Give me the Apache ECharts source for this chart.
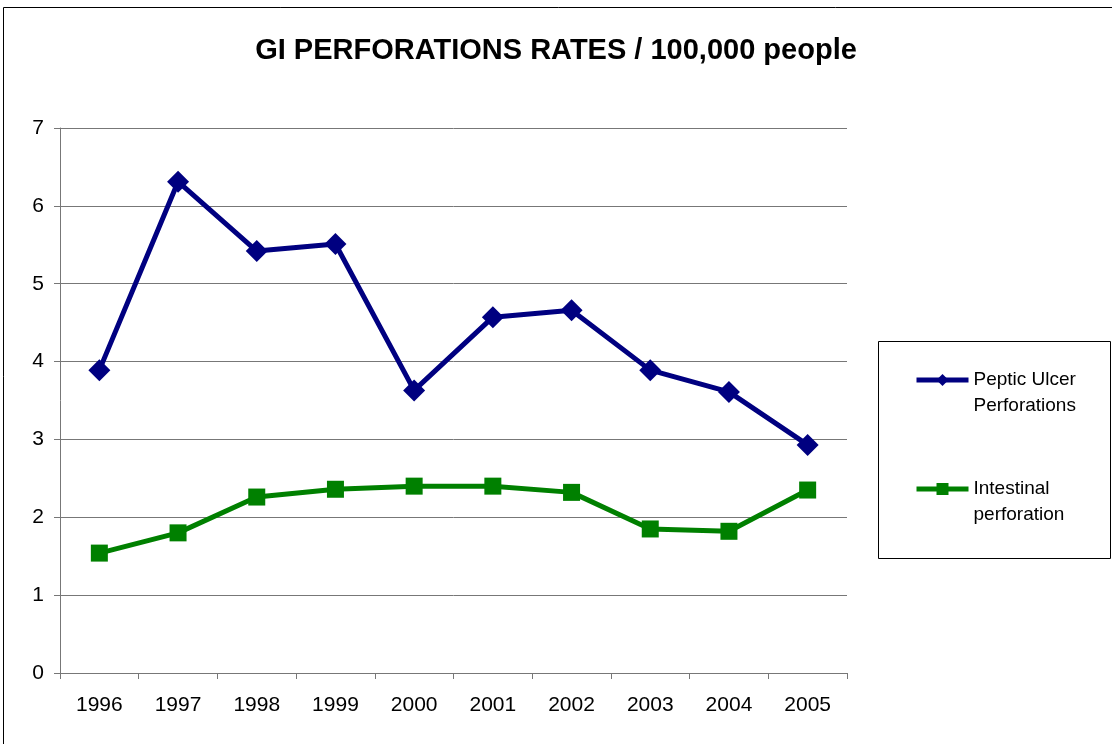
<!DOCTYPE html>
<html>
<head>
<meta charset="utf-8">
<title>GI perforations</title>
<script src="https://cdn.jsdelivr.net/npm/echarts@6/dist/echarts.min.js"></script>
<style>
	html, body { margin: 0; padding: 0; background: #fff; }
	#chart { width: 1112px; height: 744px; }
</style>
</head>
<body>
<div id="chart"></div>
<script>
// years on the x axis
var years = ['1996', '1997', '1998', '1999', '2000', '2001', '2002', '2003', '2004', '2005'];
// rates per 100,000 people
var pepticUlcer = [3.89, 6.31, 5.42, 5.51, 3.63, 4.57, 4.66, 3.89, 3.61, 2.93];
var intestinal = [1.54, 1.80, 2.26, 2.36, 2.40, 2.40, 2.32, 1.85, 1.82, 2.35];

var font = '"Liberation Sans", Arial, sans-serif';

var myChart = echarts.init(document.getElementById('chart'));
var option = {
	backgroundColor: '#fff',
	animation: false,
	title: {
		text: 'GI PERFORATIONS RATES / 100,000 people',
		left: 'center',
		top: 31,
		textStyle: { fontFamily: font, fontSize: 29, fontWeight: 'bold', color: '#000' }
	},
	//外框和图例框
	graphic: [
		{ type: 'rect', shape: { x: 3.5, y: 7.5, width: 1120, height: 750 }, style: { fill: 'none', stroke: '#000', lineWidth: 1 } },
		{ type: 'rect', shape: { x: 878.5, y: 341.5, width: 232, height: 217 }, style: { fill: 'none', stroke: '#000', lineWidth: 1 } }
	],
	legend: {
		orient: 'vertical',
		left: 909,
		top: 336,
		itemGap: 31,
		itemWidth: 52,
		itemHeight: 15,
		lineStyle: { width: 5 },
		// 前面加一个空行, 让图标和第一行文字对齐
		formatter: function(name) {
			return ' \n' + name;
		},
		data: [
			{ name: 'Peptic Ulcer\nPerforations' },
			{ name: 'Intestinal\nperforation' }
		],
		textStyle: { fontFamily: font, fontSize: 19, color: '#000', lineHeight: 26 }
	},
	grid: { left: 60, right: 265, top: 128, bottom: 71 },
	xAxis: {
		type: 'category',
		data: years,
		boundaryGap: true,
		axisLine: { lineStyle: { color: '#777', width: 1 } },
		axisTick: { show: true, length: 6, alignWithLabel: false, lineStyle: { color: '#777' } },
		axisLabel: { fontFamily: font, fontSize: 21, color: '#000', margin: 22 }
	},
	yAxis: {
		type: 'value',
		min: 0,
		max: 7,
		interval: 1,
		axisLine: { show: true, lineStyle: { color: '#777', width: 1 } },
		axisTick: { show: true, length: 6, lineStyle: { color: '#777' } },
		axisLabel: { fontFamily: font, fontSize: 21, color: '#000', margin: 16 },
		splitLine: { lineStyle: { color: '#777', width: 1 } }
	},
	series: [
		{
			name: 'Peptic Ulcer\nPerforations',
			type: 'line',
			data: pepticUlcer,
			symbol: 'diamond',
			symbolSize: 22,
			color: '#000080',
			lineStyle: { width: 5, color: '#000080' },
			itemStyle: { color: '#000080' }
		},
		{
			name: 'Intestinal\nperforation',
			type: 'line',
			data: intestinal,
			symbol: 'rect',
			symbolSize: 17,
			color: '#008000',
			lineStyle: { width: 5, color: '#008000' },
			itemStyle: { color: '#008000' }
		}
	]
};
myChart.setOption(option);
</script>
</body>
</html>
